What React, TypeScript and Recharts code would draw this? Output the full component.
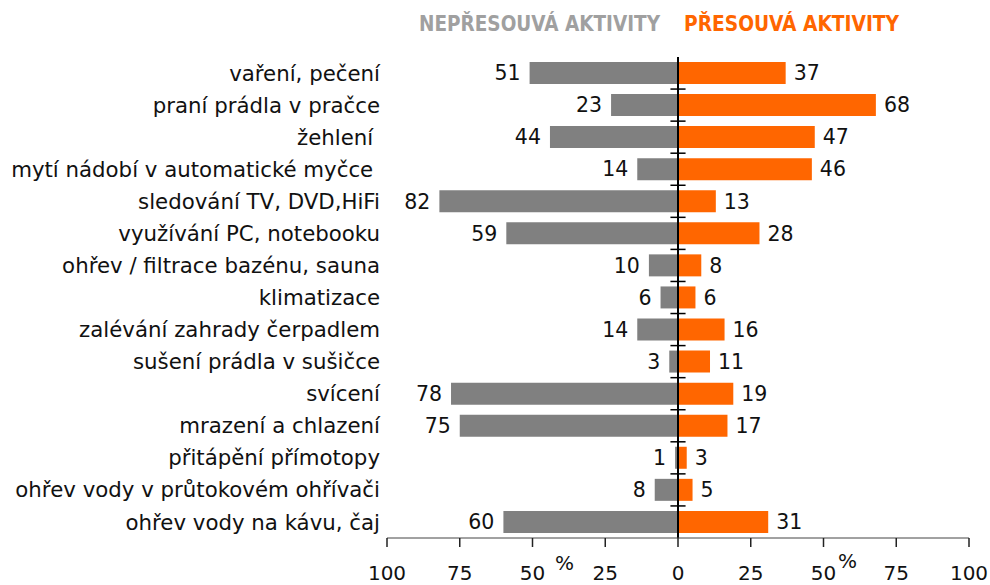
import React from 'react';
import { BarChart, Bar, XAxis, YAxis, ReferenceLine, LabelList } from 'recharts';

const categories = [
  'vaření, pečení',
  'praní prádla v pračce',
  'žehlení\u00a0',
  'mytí nádobí v automatické myčce\u00a0',
  'sledování TV, DVD,HiFi',
  'využívání PC, notebooku',
  'ohřev / filtrace bazénu, sauna',
  'klimatizace',
  'zalévání zahrady čerpadlem',
  'sušení prádla v sušičce',
  'svícení',
  'mrazení a chlazení',
  'přitápění přímotopy',
  'ohřev vody v průtokovém ohřívači',
  'ohřev vody na kávu, čaj',
];

const notShifting = [51, 23, 44, 14, 82, 59, 10, 6, 14, 3, 78, 75, 1, 8, 60];
const shifting = [37, 68, 47, 46, 13, 28, 8, 6, 16, 11, 19, 17, 3, 5, 31];
const xTicks = [-100, -75, -50, -25, 0, 25, 50, 75, 100];

const titleLeft = 'NEPŘESOUVÁ AKTIVITY';
const titleRight = 'PŘESOUVÁ AKTIVITY';

const data = categories.map((name, i) => ({ name, neg: -notShifting[i], pos: shifting[i] }));

const FONT = 'DejaVu Sans, Verdana, sans-serif';

export default function App() {
  return (
    <div style={{ position: 'absolute', left: 0, top: 0, width: 990, height: 585, background: '#fff' }}>
      <BarChart
        width={990}
        height={585}
        data={data}
        layout="vertical"
        stackOffset="sign"
        barCategoryGap="15.5%"
        margin={{ top: 57, right: 21, bottom: 0, left: 0 }}
      >
        <XAxis
          type="number"
          domain={[-100, 100]}
          ticks={xTicks}
          tickFormatter={(v: number) => String(Math.abs(v))}
          height={47}
          tickSize={9}
          tickMargin={19}
          axisLine={{ stroke: '#444', strokeWidth: 1 }}
          tickLine={{ stroke: '#222', strokeWidth: 1.5 }}
          tick={{ fill: '#111', fontSize: 20, fontFamily: FONT }}
          interval={0}
        />
        <YAxis
          type="category"
          dataKey="name"
          width={387}
          axisLine={false}
          tickLine={false}
          tickSize={0}
          tickMargin={7}
          interval={0}
          tick={{ fill: '#111', fontSize: 21.3, fontFamily: FONT }}
        />
        <Bar dataKey="neg" stackId="a" fill="#808080" isAnimationActive={false}>
          <LabelList
            dataKey="neg"
            position="right"
            offset={9}
            formatter={(v: number) => String(Math.abs(v))}
            fill="#111"
            fontSize={20.5}
            fontFamily={FONT}
          />
        </Bar>
        <Bar dataKey="pos" stackId="a" fill="#FF6600" isAnimationActive={false}>
          <LabelList dataKey="pos" position="right" offset={8} fill="#111" fontSize={20.5} fontFamily={FONT} />
        </Bar>
        <ReferenceLine x={0} stroke="#000" strokeWidth={2} />
        {categories.map((c) => (
          <ReferenceLine
            key={c}
            segment={[{ x: -2.6, y: c }, { x: 2.6, y: c }]}
            position="start"
            stroke="#000"
            strokeWidth={1.5}
          />
        ))}
        <ReferenceLine
          segment={[
            { x: -2.6, y: categories[categories.length - 1] },
            { x: 2.6, y: categories[categories.length - 1] },
          ]}
          position="end"
          stroke="#000"
          strokeWidth={1.5}
        />
      </BarChart>
      <svg width={990} height={585} style={{ position: 'absolute', left: 0, top: 0, pointerEvents: 'none' }}>
        <text
          x={419}
          y={31}
          fill="#A0A0A0"
          fontSize={22}
          fontWeight="bold"
          fontFamily="Liberation Sans Narrow, DejaVu Sans Condensed, Arial Narrow, sans-serif"
          textLength={241}
          lengthAdjust="spacingAndGlyphs"
        >
          {titleLeft}
        </text>
        <text
          x={684}
          y={31}
          fill="#FF6600"
          fontSize={22}
          fontWeight="bold"
          fontFamily="Liberation Sans Narrow, DejaVu Sans Condensed, Arial Narrow, sans-serif"
          textLength={215}
          lengthAdjust="spacingAndGlyphs"
        >
          {titleRight}
        </text>
        <text x={555} y={570} fill="#111" fontSize={20} fontFamily={FONT}>%</text>
        <text x={838} y={568} fill="#111" fontSize={20} fontFamily={FONT}>%</text>
      </svg>
    </div>
  );
}
